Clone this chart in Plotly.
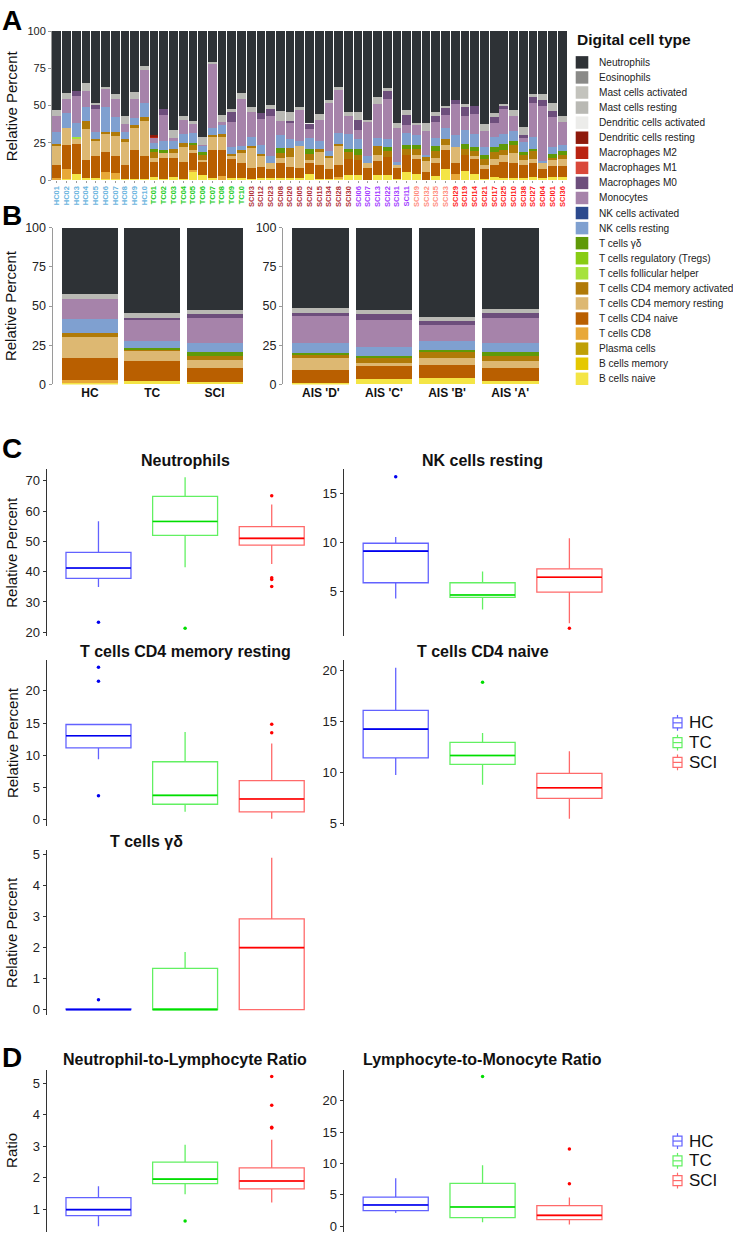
import plotly.graph_objects as go

W, H = 733, 1241
FONT = "Liberation Sans, Arial, Helvetica, sans-serif"

# ---------------- panel A: per-sample composition ----------------
samples = [
    "HC01", "HC02", "HC03", "HC04", "HC05", "HC06", "HC07", "HC08", "HC09", "HC10",
    "TC01", "TC02", "TC03", "TC04", "TC05", "TC06", "TC07", "TC08", "TC09", "TC10",
    "SCI03", "SCI12", "SCI23", "SCI08", "SCI20", "SCI05", "SCI02", "SCI15", "SCI34", "SCI28", "SCI30",
    "SCI06", "SCI07", "SCI13", "SCI22", "SCI31", "SCI11",
    "SCI09", "SCI32", "SCI35", "SCI33",
    "SCI29", "SCI19", "SCI14", "SCI21", "SCI17", "SCI25", "SCI10", "SCI38", "SCI27", "SCI04", "SCI01", "SCI36",
]
sample_groups = ["HC"] * 10 + ["TC"] * 10 + ["AIS_D"] * 11 + ["AIS_C"] * 6 + ["AIS_B"] * 4 + ["AIS_A"] * 12
label_colors = {"HC": "#6ab4de", "TC": "#22cc22", "AIS_D": "#b03038", "AIS_C": "#a33cff",
                "AIS_B": "#ff8e80", "AIS_A": "#ff1c1c"}

b_naive = [.5, .7, 3.8, 1.1, 1.1, .7, .7, .7, .7, .7,
           2.2, .7, 2.2, .7, 6.0, 3.3, 1.1, 0, 1.5, 1.1,
           .7, 1.1, 1.5, 1.1, 1.1, 1.1, 3.8, .7, .7, .7, 3.3,
           3.3, 0, 3.3, 3.3, .7, 5.1,
           3.8, 0, 2.9, 7.7,
           0, 6.0, 3.8, .7, 2.2, 1.1, 1.5, 1.1, 2.2, 1.5, 2.2, 2.2]
t_cd8 = [.6, 7.0, 0, 0, 0, 4.8, 3.7, 0, 0, 0,
         0, 0, 0, 0, .6, 0, 0, 2.9, 0, 0,
         0, 0, 0, 0, 0, 0, 0, 0, 0, 1.5, 0,
         0, 0, 0, 0, 0, 0,
         0, 0, 0, 0,
         3.8, 0, 0, 0, 0, 0, 0, 0, 0, 0, 0, 0]
cd4_naive = [9.3, 16.0, 20.1, 12.2, 15.1, 13.3, 11.8, 9.7, 19.2, 15.2,
             10.0, 14.1, 12.6, 11.5, 11.8, 8.9, 18.8, 17.0, 12.4, 10.0,
             7.5, 7.7, 5.8, 10.0, 7.7, 7.1, 7.9, 9.3, 7.0, 8.2, 11.1,
             10.0, 8.2, 9.3, 12.2, 7.5, 11.5,
             10.1, 5.5, 8.8, 12.2,
             7.3, 11.0, 10.1, 6.6, 7.8, 11.1, 9.6, 8.9, 9.5, 6.2, 7.3, 7.3]
cd4_mem_rest = [12.8, 11.0, 4.2, 21.0, 9.7, 12.2, 13.2, 15.0, 14.8, 23.5,
                2.6, 3.6, 3.6, 9.7, 1.5, 1.1, 9.3, 9.3, 2.2, 7.3,
                13.3, 7.7, 4.4, 3.9, 6.7, 14.6, 1.6, 8.8, 7.1, 12.4, 0,
                0, 3.5, 4.4, 0, 1.8, 0,
                3.1, 7.1, 3.3, 3.8,
                11.0, 0, 2.3, 3.1, 3.9, 4.4, 7.3, 3.3, 2.7, 4.0, 3.8, 4.4]
cd4_mem_act = [.9, 0, 0, 5.5, 1.8, 1.5, 3.1, 2.3, 2.5, 2.6,
               4.0, 0, 2.6, 3.1, 3.8, 3.7, 1.1, 1.8, 1.6, 1.5,
               1.3, 1.2, 0, 3.4, 6.0, 0, 4.4, 1.8, 1.4, 1.5, 4.4,
               3.7, 0, 5.8, 3.7, 0, 4.4,
               4.0, 2.9, 4.2, 4.0,
               0, 3.6, 3.0, 4.0, 4.9, 3.3, 5.3, 3.3, 4.8, 0, 1.5, 3.1]
t_fh = [0, 0, 1.1, 0, 0, 0, 0, 0, 0, 0,
        0, 0, 0, 0, 0, 0, 0, 0, 0, 0,
        0, 0, 0, 0, 0, 0, 0, 0, 0, 0, 0,
        0, 0, 0, 0, 0, 0,
        0, 0, 0, 0,
        0, 0, 0, 0, 0, 0, 0, 0, 0, 0, 0, 0]
t_gd = [0, 0, 0, 0, 0, 0, 0, 0, 0, 0,
        1.8, 1.5, 0, 0, 1.3, 1.8, 0, 0, 0, 0,
        0, 0, 0, 3.1, 0, 0, 2.9, 0, 0, 0, 2.2,
        3.6, 0, 0, 2.9, 0, 2.7,
        2.7, 0, 3.6, 0,
        0, 3.7, 2.9, 2.6, 3.3, 4.4, 2.2, 2.2, 1.4, 0, 2.9, 2.2]
nk_rest = [8.0, 10.2, 9.1, 8.9, 4.4, 16.6, 10.0, 4.8, 4.2, 9.5,
           4.4, 6.0, 4.9, 5.8, 6.6, 4.4, 4.4, 5.7, 4.4, 2.9,
           6.0, 6.0, 4.5, 8.8, 6.2, 3.1, 7.5, 5.9, 3.0, 7.3, 10.0,
           7.1, 4.5, 5.1, 5.5, 1.8, 7.9,
           6.6, 1.5, 5.3, 7.0,
           8.2, 9.5, 8.9, 5.1, 6.7, 6.7, 7.3, 6.6, 8.2, .9, 4.4, 4.5]
monocytes = [11.0, 9.7, 18.1, 11.0, 15.5, 11.7, 11.7, 4.8, 13.2, 22.2,
             3.5, 17.7, 2.4, 9.8, 5.8, .5, 43.4, 2.0, 16.6, 31.8,
             17.0, 17.2, 26.9, 9.5, 10.6, 21.7, 6.2, 13.8, 32.3, 28.8, 11.7,
             6.1, 22.5, 23.2, 26.9, 23.0, 5.3,
             6.6, 16.2, 10.6, 8.9,
             20.6, 9.3, 13.2, 11.1, 9.5, 17.0, 9.5, 2.7, 22.7, 37.2, 19.9, 15.0]
mac_m0 = [0, 0, 3.3, 0, 3.1, 0, 0, 0, 0, 0,
          0, 4.0, 0, 0, 0, 0, 0, 0, 7.1, 0,
          0, 4.0, 4.9, 0, 1.5, 0, 3.3, 0, 0, 0, 0,
          6.7, 0, 0, 5.1, 0, 6.7,
          0, 0, 4.0, 5.1,
          2.9, 5.6, 5.6, 0, 3.7, 2.0, 0, 2.2, 4.5, 4.0, 4.5, 0]
mac_m2 = [0, 0, 0, 0, 0, 0, 0, 0, 0, 0,
          1.0, 0, 0, 0, 0, 0, 0, 0, 0, 0,
          0, 0, 0, 0, 0, 0, 0, 0, 0, 0, 0,
          0, 0, 0, 0, 0, 0,
          0, 0, 0, 0,
          0, 0, 0, 0, 0, 0, 0, 0, 0, 0, 0, 0]
dc_rest = [0, 0, 0, 0, 0, 0, 0, 0, 0, 0,
           .8, 0, 0, 0, 0, 0, 0, 0, 0, 0,
           0, 0, 0, 0, 0, 0, 0, 0, 0, 0, 0,
           0, 0, 0, 0, 0, 0,
           0, 0, 0, 0,
           0, 0, 0, 0, 0, 0, 0, 0, 0, 0, 0, 0]
dc_act = [0, 0, 0, 0, 0, 0, 0, 0, 0, 0,
          0, 0, 0, 0, 0, 0, 0, 0, 0, 0,
          0, 0, 0, 0, 0, 0, .7, 0, 0, 0, 0,
          0, 0, 0, 0, 0, 0,
          0, 0, 0, 0,
          0, 0, 0, 0, 0, 0, 0, 0, 0, 0, 0, 0]
mast_rest = [4.0, 3.6, 0, 5.1, 1.3, 1.8, 3.3, 5.9, 4.5, 3.1,
             0, 0, 5.5, 2.6, 2.4, 5.1, .9, 4.9, 1.8, 4.0,
             3.5, 0, 2.2, 6.7, 6.0, 1.1, 0, 3.9, 2.3, 2.2, 3.1,
             5.3, 1.8, 4.4, 2.2, 3.5, 3.5,
             1.4, 5.1, 3.1, 1.1,
             0, 2.2, 0, 4.4, 2.9, .9, 4.4, 5.1, 1.5, 3.7, 5.0, 4.0]
neutrophils = [52.9, 41.8, 40.3, 35.2, 48.0, 37.4, 42.5, 56.8, 40.9, 23.2,
               69.7, 52.4, 66.2, 56.8, 60.2, 71.2, 21.0, 56.4, 52.4, 41.4,
               50.7, 55.1, 49.8, 53.5, 54.2, 51.3, 61.7, 55.8, 46.2, 37.4, 54.2,
               54.2, 59.5, 44.5, 38.2, 61.7, 52.9,
               61.7, 61.7, 54.2, 50.2,
               46.2, 49.1, 50.2, 62.4, 55.1, 49.1, 52.9, 64.6, 42.5, 42.5, 48.5, 57.3]

# ---------------- panel B: group means ----------------
groups_left = ["HC", "TC", "SCI"]
groups_right = ["AIS 'D'", "AIS 'C'", "AIS 'B'", "AIS 'A'"]
# order: HC, TC, SCI, AIS D, AIS C, AIS B, AIS A
grp_b_naive = [1.1, 2.1, 1.7, 1.1, 3.2, 4.2, 2.1]
grp_t_cd8 = [1.6, 0, 0, 0, 0, 0, 0]
grp_cd4_naive = [14.1, 12.6, 8.8, 8.4, 8.4, 8.4, 8.4]
grp_cd4_mem_rest = [13.7, 6.4, 5.3, 7.3, 2.1, 4.2, 4.2]
grp_cd4_mem_act = [2.1, 1.3, 2.5, 2.4, 2.9, 4.2, 3.6]
grp_t_fh = [0, 0, 0, 0, 0, 0, 0]
grp_t_gd = [0, 0.8, 2.1, 0.8, 1.7, 1.1, 2.1]
grp_nk_rest = [8.9, 4.8, 5.9, 6.3, 5.5, 5.9, 6.3]
grp_monocytes = [13.2, 13.5, 15.8, 17.3, 17.3, 9.9, 15.4]
grp_mac_m0 = [0, 1.2, 2.7, 2.1, 3.7, 2.7, 3.6]
grp_mac_m2 = [0, 0, 0, 0, 0, 0, 0]
grp_dc_rest = [0, 0, 0, 0, 0, 0, 0]
grp_dc_act = [0, 0, 0, 0, 0, 0, 0]
grp_mast_rest = [3.2, 2.6, 3.0, 3.4, 3.0, 2.6, 2.7]
grp_neutrophils = [42.1, 54.7, 52.2, 50.9, 52.2, 56.8, 51.6]

# legend, top to bottom
legend_types = [
    ("Neutrophils", "#2e3236"), ("Eosinophils", "#8a8a88"), ("Mast cells activated", "#c3c3bd"),
    ("Mast cells resting", "#b9b9b4"), ("Dendritic cells activated", "#ececea"),
    ("Dendritic cells resting", "#8e1a0c"), ("Macrophages M2", "#ba2312"), ("Macrophages M1", "#d9483a"),
    ("Macrophages M0", "#6d4e7c"), ("Monocytes", "#a683aa"), ("NK cells activated", "#2c4a8e"),
    ("NK cells resting", "#7fa0d0"), ("T cells γδ", "#5f9a08"), ("T cells regulatory (Tregs)", "#88cc14"),
    ("T cells follicular helper", "#a6e23c"), ("T cells CD4 memory activated", "#b07a08"),
    ("T cells CD4 memory resting", "#ddb872"), ("T cells CD4 naive", "#b95f00"), ("T cells CD8", "#e8a838"),
    ("Plasma cells", "#bfa006"), ("B cells memory", "#e5c800"), ("B cells naive", "#f4e545"),
]
type_color = dict(legend_types)

stack = [  # bottom to top
    ("B cells naive", b_naive, grp_b_naive),
    ("T cells CD8", t_cd8, grp_t_cd8),
    ("T cells CD4 naive", cd4_naive, grp_cd4_naive),
    ("T cells CD4 memory resting", cd4_mem_rest, grp_cd4_mem_rest),
    ("T cells CD4 memory activated", cd4_mem_act, grp_cd4_mem_act),
    ("T cells follicular helper", t_fh, grp_t_fh),
    ("T cells γδ", t_gd, grp_t_gd),
    ("NK cells resting", nk_rest, grp_nk_rest),
    ("Monocytes", monocytes, grp_monocytes),
    ("Macrophages M0", mac_m0, grp_mac_m0),
    ("Macrophages M2", mac_m2, grp_mac_m2),
    ("Dendritic cells resting", dc_rest, grp_dc_rest),
    ("Dendritic cells activated", dc_act, grp_dc_act),
    ("Mast cells resting", mast_rest, grp_mast_rest),
    ("Neutrophils", neutrophils, grp_neutrophils),
]

# ---------------- panels C, D: box stats (lower, q1, median, q3, upper) for HC, TC, SCI ----
box_groups = ["HC", "TC", "SCI"]
box_line_colors = ["#6262ff", "#62f062", "#ff6a6a"]
box_dark_colors = ["#0000ee", "#00dd00", "#ff0000"]
neut_box = [(34.9, 37.8, 41.2, 46.4, 56.7), (41.5, 52.0, 56.6, 64.9, 71.2), (42.5, 48.8, 51.0, 54.9, 62.2)]
neut_out = [[23.3], [21.3], [65.1, 38.0, 37.4, 35.1]]
nk_box = [(4.26, 5.88, 9.12, 9.93, 10.57), (3.14, 4.39, 4.63, 5.88, 7.03), (1.72, 4.93, 6.45, 7.30, 10.44)]
nk_out = [[16.76], [], [1.22]]
memrest_box = [(9.38, 11.13, 13.03, 14.77, 14.9), (1.18, 2.36, 3.74, 8.97, 13.6), (0.1, 1.18, 3.18, 6.05, 11.8)]
memrest_out = [[23.7, 21.5, 3.69], [], [14.8, 13.5]]
naive_box = [(9.75, 11.43, 14.25, 16.09, 20.26), (8.78, 10.79, 11.66, 12.95, 13.86), (5.45, 7.46, 8.49, 9.91, 12.08)]
naive_out = [[], [18.84], []]
gd_box = [(0, 0, 0, 0.02, 0.02), (0, 0, 0, 1.33, 1.86), (0, 0, 2.0, 2.93, 4.9)]
gd_out = [[0.32], [], []]
nlr_box = [(0.45, 0.79, 0.98, 1.36, 1.72), (1.47, 1.81, 1.95, 2.49, 3.04), (1.21, 1.64, 1.89, 2.31, 3.20)]
nlr_out = [[], [0.62], [5.21, 4.30, 3.60, 3.57]]
lmr_box = [(2.08, 2.49, 3.38, 4.62, 7.64), (0.62, 1.35, 3.06, 6.81, 9.71), (0.26, 1.04, 1.71, 3.27, 4.57)]
lmr_out = [[], [23.9], [12.3, 6.75]]


def xd(a, b):
    return [a / W, b / W]


def yd(top, bottom):
    return [1 - bottom / H, 1 - top / H]


def px(x):
    return x / W


def py(y):
    return 1 - y / H


fig = go.Figure()

# stacked bars, panels A and B
for name, vals, grp in stack:
    col = type_color[name]
    fig.add_trace(go.Bar(x=list(range(len(samples))), y=vals, marker=dict(color=col, line=dict(width=0)),
                         width=0.9, name=name, showlegend=False, xaxis="x", yaxis="y"))
    fig.add_trace(go.Bar(x=[0, 1, 2], y=grp[:3], marker=dict(color=col, line=dict(width=0)),
                         width=0.9, showlegend=False, xaxis="x2", yaxis="y2"))
    fig.add_trace(go.Bar(x=[0, 1, 2, 3], y=grp[3:], marker=dict(color=col, line=dict(width=0)),
                         width=0.9, showlegend=False, xaxis="x3", yaxis="y3"))

# box panels
box_panels = [
    (4, "Neutrophils", neut_box, neut_out, (18.8, 73.8), [20, 30, 40, 50, 60, 70]),
    (5, "NK cells resting", nk_box, nk_out, (0.44, 17.5), [5, 10, 15]),
    (6, "T cells CD4 memory resting", memrest_box, memrest_out, (-1.02, 24.77), [0, 5, 10, 15, 20]),
    (7, "T cells CD4 naive", naive_box, naive_out, (4.75, 21.0), [5, 10, 15, 20]),
    (8, "T cells γδ", gd_box, gd_out, (-0.19, 5.14), [0, 1, 2, 3, 4, 5]),
    (9, "Neutrophil-to-Lymphocyte Ratio", nlr_box, nlr_out, (0.27, 5.42), [1, 2, 3, 4, 5]),
    (10, "Lymphocyte-to-Monocyte Ratio", lmr_box, lmr_out, (-0.94, 24.94), [0, 5, 10, 15, 20]),
]

for idx, title, stats, outs, yr, tv in box_panels:
    for g, (st, ol, lc, dc) in enumerate(zip(stats, outs, box_line_colors, box_dark_colors)):
        lo, q1, med, q3, hi = st
        fig.add_trace(go.Box(x=[g], lowerfence=[lo], q1=[q1], median=[med], q3=[q3], upperfence=[hi],
                             orientation="v", width=0.75, whiskerwidth=0, boxpoints=False,
                             line=dict(color=lc, width=1.3), fillcolor="rgba(255,255,255,0)",
                             showlegend=False, hoverinfo="skip", xaxis=f"x{idx}", yaxis=f"y{idx}"))
        # darker median stroke, as in the original
        fig.add_trace(go.Scatter(x=[g - 0.375, g + 0.375], y=[med, med], mode="lines",
                                 line=dict(color=dc, width=1.6), showlegend=False, hoverinfo="skip",
                                 xaxis=f"x{idx}", yaxis=f"y{idx}"))
        if ol:
            fig.add_trace(go.Scatter(x=[g] * len(ol), y=ol, mode="markers",
                                     marker=dict(color=dc, size=3.5), showlegend=False,
                                     xaxis=f"x{idx}", yaxis=f"y{idx}"))

layout = dict(
    width=W, height=H, margin=dict(l=0, r=0, t=0, b=0),
    paper_bgcolor="white", plot_bgcolor="white", barmode="stack",
    font=dict(family=FONT, color="#1a1a1a"), showlegend=False,
)

ticktext = [f"<span style='color:{label_colors[g]}'><b>{s}</b></span>" for s, g in zip(samples, sample_groups)]
layout["xaxis"] = dict(domain=xd(52, 567), anchor="y", range=[-0.5, len(samples) - 0.5],
                       tickvals=list(range(len(samples))), ticktext=ticktext, tickangle=-90,
                       tickfont=dict(size=7.5), ticks="outside", ticklen=2, tickcolor="#9a9a9a",
                       showline=False, showgrid=False, zeroline=False)
layout["yaxis"] = dict(domain=yd(24.3, 175), anchor="x", range=[0, 100], tickvals=[0, 25, 50, 75, 100],
                       tickfont=dict(size=11, color="#222"), ticks="outside", ticklen=3, tickcolor="#9a9a9a",
                       showline=True, linecolor="#9a9a9a", linewidth=1, showgrid=False, zeroline=False)

layout["xaxis2"] = dict(domain=xd(52.5, 252), anchor="y2", range=[-0.6, 2.6], tickvals=[0, 1, 2],
                        ticktext=[f"<b>{g}</b>" for g in groups_left], tickfont=dict(size=12, color="#111"),
                        ticks="", showline=False, showgrid=False, zeroline=False)
layout["yaxis2"] = dict(domain=yd(223.3, 381.7), anchor="x2", range=[0, 100], tickvals=[0, 25, 50, 75, 100],
                        tickfont=dict(size=12.5, color="#222"), ticks="outside", ticklen=3, tickcolor="#9a9a9a",
                        showline=True, linecolor="#9a9a9a", linewidth=1, showgrid=False, zeroline=False)
layout["xaxis3"] = dict(domain=xd(283, 548), anchor="y3", range=[-0.6, 3.6], tickvals=[0, 1, 2, 3],
                        ticktext=[f"<b>{g}</b>" for g in groups_right], tickfont=dict(size=12, color="#111"),
                        ticks="", showline=False, showgrid=False, zeroline=False)
layout["yaxis3"] = dict(domain=yd(223.3, 381.7), anchor="x3", range=[0, 100], tickvals=[0, 25, 50, 75, 100],
                        tickfont=dict(size=12.5, color="#222"), ticks="outside", ticklen=3, tickcolor="#9a9a9a",
                        showline=True, linecolor="#9a9a9a", linewidth=1, showgrid=False, zeroline=False)

# box panel geometry in pixels: (left, right, top, bottom)
box_geom = {
    4: (46.5, 323.7, 467.7, 636), 5: (343.6, 621.5, 467.7, 636),
    6: (46.5, 323.7, 660.7, 828.3), 7: (343.6, 621.5, 660.7, 828.3),
    8: (46.5, 323.7, 853, 1020),
    9: (46.5, 323.7, 1075, 1239), 10: (343.6, 621.5, 1075, 1239),
}
title_y = {4: 458.3, 5: 458.3, 6: 651.7, 7: 651.7, 8: 844, 9: 1065, 10: 1065}

annotations = []
for idx, title, stats, outs, yr, tv in box_panels:
    l, r, t, b = box_geom[idx]
    layout[f"xaxis{idx}"] = dict(domain=xd(l, r), anchor=f"y{idx}", range=[-0.6, 2.6], showticklabels=False,
                                 ticks="", showline=False, showgrid=False, zeroline=False)
    layout[f"yaxis{idx}"] = dict(domain=yd(t, b), anchor=f"x{idx}", range=list(yr), tickvals=tv,
                                 tickfont=dict(size=13, color="#222"), ticks="outside", ticklen=3,
                                 tickcolor="#333", showline=True, linecolor="#333", linewidth=1,
                                 showgrid=False, zeroline=False)
    cx = (l + r) / 2 if idx != 8 else 146
    annotations.append(dict(text=f"<b>{title}</b>", x=px(cx), y=py(title_y[idx]), xref="paper", yref="paper",
                            xanchor="center", yanchor="middle", showarrow=False,
                            font=dict(size=16, color="#111")))

# y-axis titles
for text, xc, yc in [("Relative Percent", 11.5, 100), ("Relative Percent", 10, 302.5),
                     ("Relative Percent", 12, 552), ("Relative Percent", 12, 744.5),
                     ("Relative Percent", 12, 936.5), ("Ratio", 12, 1157)]:
    annotations.append(dict(text=text, x=px(xc), y=py(yc), xref="paper", yref="paper", textangle=-90,
                            xanchor="center", yanchor="middle", showarrow=False,
                            font=dict(size=15, color="#111")))

# panel letters
for letter, yc in [("A", 14), ("B", 211), ("C", 447), ("D", 1062)]:
    annotations.append(dict(text=f"<b>{letter}</b>", x=0, y=py(yc), xref="paper", yref="paper",
                            xanchor="left", yanchor="middle", showarrow=False,
                            font=dict(size=28, color="#000")))

# cell-type legend (drawn by hand to match the swatch spacing)
shapes = []
annotations.append(dict(text="<b>Digital cell type</b>", x=px(575), y=py(33), xref="paper", yref="paper",
                        xanchor="left", yanchor="middle", showarrow=False, font=dict(size=15.5, color="#111")))
for i, (name, col) in enumerate(legend_types):
    yc = 56 + i * 15.24
    shapes.append(dict(type="rect", xref="paper", yref="paper", x0=px(575.7), x1=px(588.3),
                       y0=py(yc + 6.3), y1=py(yc - 6.3), fillcolor=col, line=dict(width=0)))
    annotations.append(dict(text=name, x=px(597), y=py(yc), xref="paper", yref="paper",
                            xanchor="left", yanchor="middle", showarrow=False,
                            font=dict(size=10.1, color="#222")))

# HC / TC / SCI legends for C and D
for y0 in (724, 1147):
    for k, (g, col) in enumerate(zip(box_groups, box_line_colors)):
        yc = y0 + k * 20
        shapes.append(dict(type="rect", xref="paper", yref="paper", x0=px(673), x1=px(682),
                           y0=py(yc + 5), y1=py(yc - 5), line=dict(color=col, width=1.2)))
        shapes.append(dict(type="line", xref="paper", yref="paper", x0=px(673), x1=px(682),
                           y0=py(yc), y1=py(yc), line=dict(color=col, width=1.2)))
        for a, b in [(yc - 8, yc - 5), (yc + 5, yc + 8)]:
            shapes.append(dict(type="line", xref="paper", yref="paper", x0=px(677.5), x1=px(677.5),
                               y0=py(a), y1=py(b), line=dict(color=col, width=1.2)))
        annotations.append(dict(text=g, x=px(687), y=py(yc), xref="paper", yref="paper",
                                xanchor="left", yanchor="middle", showarrow=False,
                                font=dict(size=17, color="#111")))

layout["annotations"] = annotations
layout["shapes"] = shapes
fig.update_layout(**layout)

# drop the page's default 8px body margin so the figure sits at the window origin
fig.write_html("out.html", config={"displayModeBar": False},
               post_script="document.body.style.margin='0px';document.body.style.overflow='hidden';")
